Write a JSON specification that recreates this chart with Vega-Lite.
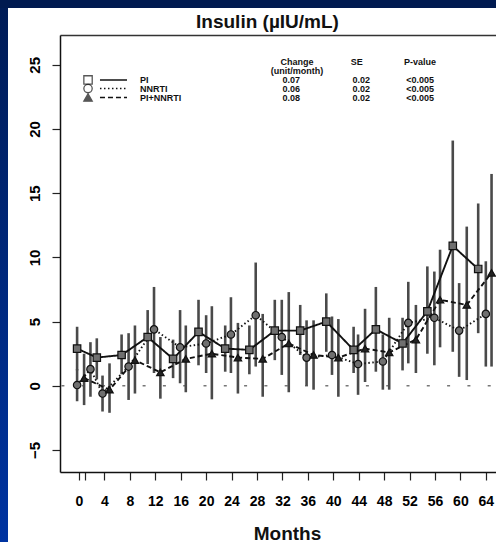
{
  "$schema": "https://vega.github.io/schema/vega-lite/v6.json",
  "width": 436,
  "height": 437,
  "autosize": "none",
  "padding": {"left": 60, "top": 35, "right": 0, "bottom": 70},
  "background": "#ffffff",
  "config": {
    "view": {"stroke": null},
    "axis": {"grid": false, "labelFont": "Liberation Sans", "titleFont": "Liberation Sans"}
  },
  "datasets": {
    "obs": [
      {"series": "PI", "month": -0.3, "insulin": 2.9, "lo": 1.2, "hi": 4.6},
      {"series": "PI", "month": 2.8, "insulin": 2.2, "lo": 0.5, "hi": 3.7},
      {"series": "PI", "month": 6.7, "insulin": 2.4, "lo": 0.9, "hi": 4.0},
      {"series": "PI", "month": 10.8, "insulin": 3.8, "lo": 1.7, "hi": 5.9},
      {"series": "PI", "month": 14.8, "insulin": 2.1, "lo": 0.6, "hi": 3.6},
      {"series": "PI", "month": 18.8, "insulin": 4.2, "lo": 1.6, "hi": 6.7},
      {"series": "PI", "month": 23.0, "insulin": 2.9, "lo": 1.1, "hi": 4.7},
      {"series": "PI", "month": 26.8, "insulin": 2.8, "lo": 0.9, "hi": 4.7},
      {"series": "PI", "month": 30.8, "insulin": 4.3, "lo": 2.0, "hi": 6.7},
      {"series": "PI", "month": 34.8, "insulin": 4.3, "lo": 2.4, "hi": 6.3},
      {"series": "PI", "month": 38.9, "insulin": 5.0, "lo": 2.65, "hi": 7.2},
      {"series": "PI", "month": 43.2, "insulin": 2.8, "lo": 1.0, "hi": 4.6},
      {"series": "PI", "month": 46.7, "insulin": 4.4, "lo": 1.1, "hi": 7.7},
      {"series": "PI", "month": 50.9, "insulin": 3.3, "lo": 1.2, "hi": 5.3},
      {"series": "PI", "month": 54.8, "insulin": 5.8, "lo": 2.5, "hi": 9.3},
      {"series": "PI", "month": 58.8, "insulin": 10.9, "lo": 2.65, "hi": 19.1},
      {"series": "PI", "month": 62.8, "insulin": 9.1, "lo": 4.1, "hi": 14.2},
      {"series": "NNRTI", "month": -0.3, "insulin": 0.06, "lo": -1.2, "hi": 1.3},
      {"series": "NNRTI", "month": 1.8, "insulin": 1.3, "lo": -0.85, "hi": 3.4},
      {"series": "NNRTI", "month": 3.7, "insulin": -0.6, "lo": -2.0, "hi": 0.8},
      {"series": "NNRTI", "month": 7.8, "insulin": 1.5, "lo": -1.1, "hi": 4.1},
      {"series": "NNRTI", "month": 11.8, "insulin": 4.4, "lo": 1.0, "hi": 7.7},
      {"series": "NNRTI", "month": 15.9, "insulin": 3.0, "lo": 0.2, "hi": 5.9},
      {"series": "NNRTI", "month": 20.0, "insulin": 3.3, "lo": 1.0, "hi": 5.5},
      {"series": "NNRTI", "month": 23.9, "insulin": 4.0, "lo": 1.0, "hi": 6.9},
      {"series": "NNRTI", "month": 27.8, "insulin": 5.5, "lo": 1.5, "hi": 9.6},
      {"series": "NNRTI", "month": 31.9, "insulin": 3.8, "lo": 0.85, "hi": 6.7},
      {"series": "NNRTI", "month": 35.8, "insulin": 2.2, "lo": 0.0, "hi": 5.1},
      {"series": "NNRTI", "month": 39.8, "insulin": 2.4, "lo": 0.85, "hi": 5.4},
      {"series": "NNRTI", "month": 43.9, "insulin": 1.7, "lo": -0.7, "hi": 4.0},
      {"series": "NNRTI", "month": 47.8, "insulin": 1.9, "lo": -0.3, "hi": 4.0},
      {"series": "NNRTI", "month": 51.8, "insulin": 4.9, "lo": 1.75, "hi": 8.1},
      {"series": "NNRTI", "month": 55.9, "insulin": 5.3, "lo": 1.6, "hi": 8.9},
      {"series": "NNRTI", "month": 59.8, "insulin": 4.3, "lo": 0.7, "hi": 8.0},
      {"series": "NNRTI", "month": 64.0, "insulin": 5.6, "lo": 1.5, "hi": 9.7},
      {"series": "PI+NNRTI", "month": 0.8, "insulin": 0.6, "lo": -1.5, "hi": 2.5},
      {"series": "PI+NNRTI", "month": 4.8, "insulin": -0.3, "lo": -2.1, "hi": 1.75},
      {"series": "PI+NNRTI", "month": 8.8, "insulin": 2.0, "lo": -0.6, "hi": 4.7},
      {"series": "PI+NNRTI", "month": 12.8, "insulin": 1.05, "lo": -1.0, "hi": 3.8},
      {"series": "PI+NNRTI", "month": 16.8, "insulin": 2.1, "lo": -0.5, "hi": 4.7},
      {"series": "PI+NNRTI", "month": 20.9, "insulin": 2.5, "lo": -1.05, "hi": 6.2},
      {"series": "PI+NNRTI", "month": 25.0, "insulin": 2.2, "lo": -0.6, "hi": 4.9},
      {"series": "PI+NNRTI", "month": 28.9, "insulin": 2.1, "lo": -0.85, "hi": 5.6},
      {"series": "PI+NNRTI", "month": 33.0, "insulin": 3.3, "lo": -0.5, "hi": 7.3},
      {"series": "PI+NNRTI", "month": 36.9, "insulin": 2.4, "lo": -0.3, "hi": 5.1},
      {"series": "PI+NNRTI", "month": 40.8, "insulin": 2.2, "lo": -0.85, "hi": 5.2},
      {"series": "PI+NNRTI", "month": 45.0, "insulin": 2.9, "lo": 0.3, "hi": 6.0},
      {"series": "PI+NNRTI", "month": 48.8, "insulin": 2.6, "lo": -0.3, "hi": 5.3},
      {"series": "PI+NNRTI", "month": 53.0, "insulin": 3.6, "lo": 1.0, "hi": 6.3},
      {"series": "PI+NNRTI", "month": 56.8, "insulin": 6.7, "lo": 3.0, "hi": 10.6},
      {"series": "PI+NNRTI", "month": 61.0, "insulin": 6.3, "lo": 0.45, "hi": 12.4},
      {"series": "PI+NNRTI", "month": 64.9, "insulin": 8.8, "lo": 1.5, "hi": 16.5}
    ],
    "legend_names": [
      {"label": "PI", "month": 9.6, "insulin": 23.82},
      {"label": "NNRTI", "month": 9.6, "insulin": 23.15},
      {"label": "PI+NNRTI", "month": 9.6, "insulin": 22.45}
    ],
    "legend_table": [
      {"label": "Change", "month": 34.3, "insulin": 25.25},
      {"label": "(unit/month)", "month": 34.3, "insulin": 24.5},
      {"label": "SE", "month": 43.7, "insulin": 25.25},
      {"label": "P-value", "month": 53.65, "insulin": 25.25},
      {"label": "0.07", "month": 33.4, "insulin": 23.82},
      {"label": "0.02", "month": 44.4, "insulin": 23.82},
      {"label": "<0.005", "month": 53.65, "insulin": 23.82},
      {"label": "0.06", "month": 33.4, "insulin": 23.15},
      {"label": "0.02", "month": 44.4, "insulin": 23.15},
      {"label": "<0.005", "month": 53.65, "insulin": 23.15},
      {"label": "0.08", "month": 33.4, "insulin": 22.45},
      {"label": "0.02", "month": 44.4, "insulin": 22.45},
      {"label": "<0.005", "month": 53.65, "insulin": 22.45}
    ],
    "legend_keys": [
      {"series": "PI", "month": 1.42, "m_start": 3.3, "m_end": 7.55, "insulin": 23.82},
      {"series": "NNRTI", "month": 1.42, "m_start": 3.3, "m_end": 7.55, "insulin": 23.15},
      {"series": "PI+NNRTI", "month": 1.42, "m_start": 3.3, "m_end": 7.55, "insulin": 22.45}
    ],
    "ref": [{"level": 0}]
  },
  "layer": [
    {
      "data": {"values": [{}]},
      "mark": {
        "type": "rect",
        "clip": false,
        "color": {
          "gradient": "linear", "x1": 0, "y1": 0, "x2": 0, "y2": 1,
          "stops": [{"offset": 0, "color": "#001a50"}, {"offset": 1, "color": "#0036a8"}]
        }
      },
      "encoding": {
        "x": {"datum": -20, "type": "quantitative", "axis": null, "scale": {"domain": [-2.99, 65.6], "nice": false, "zero": false}},
        "x2": {"datum": -11.17},
        "y": {"datum": 33, "type": "quantitative", "axis": null, "scale": {"domain": [-6.71, 27.32], "nice": false, "zero": false}},
        "y2": {"datum": -16}
      }
    },
    {
      "data": {"values": [{}]},
      "mark": {"type": "rect", "clip": false, "color": "#001a50"},
      "encoding": {
        "x": {"datum": -20, "type": "quantitative", "axis": null},
        "x2": {"datum": 80},
        "y": {"datum": 33, "type": "quantitative", "axis": null},
        "y2": {"datum": 29.42}
      }
    },
    {
      "data": {"name": "ref"},
      "mark": {"type": "rule", "color": "#777777", "strokeWidth": 1.5, "strokeDash": [3, 17.3], "strokeDashOffset": 15},
      "encoding": {
        "y": {"field": "level", "type": "quantitative", "axis": null}
      }
    },
    {
      "data": {"name": "obs"},
      "mark": {"type": "rule", "color": "#4a4a4a", "strokeWidth": 2.6},
      "encoding": {
        "x": {
          "field": "month", "type": "quantitative",
          "scale": {"domain": [-2.99, 65.6], "nice": false, "zero": false},
          "axis": {
            "orient": "bottom",
            "values": [0, 1, 4, 8, 12, 16, 20, 24, 28, 32, 36, 40, 44, 48, 52, 56, 60, 64],
            "labelExpr": "datum.value == 1 ? '' : datum.label",
            "labelOverlap": false,
            "labelFlush": false,
            "tickSize": 8,
            "tickColor": "#222222",
            "tickWidth": 1.2,
            "domainColor": "#111111",
            "domainWidth": 1.5,
            "labelFontSize": 14,
            "labelFontWeight": "bold",
            "labelColor": "#000000",
            "labelPadding": 14,
            "title": "Months",
            "titleFontSize": 19,
            "titleFontWeight": "bold",
            "titleColor": "#111111",
            "titleX": 227,
            "titleY": 67,
            "titleAlign": "center",
            "titleBaseline": "alphabetic"
          }
        },
        "y": {
          "field": "lo", "type": "quantitative",
          "scale": {"domain": [-6.71, 27.32], "nice": false, "zero": false},
          "axis": null
        },
        "y2": {"field": "hi"}
      }
    },
    {
      "data": {"name": "obs"},
      "mark": {"type": "line", "color": "#111111", "strokeWidth": 1.9},
      "encoding": {
        "x": {"field": "month", "type": "quantitative", "axis": null},
        "y": {"field": "insulin", "type": "quantitative", "axis": null},
        "strokeDash": {
          "field": "series", "type": "nominal",
          "scale": {"domain": ["PI", "NNRTI", "PI+NNRTI"], "range": [[1, 0], [1.5, 2.5], [5, 3]]},
          "legend": null
        }
      }
    },
    {
      "data": {"name": "obs"},
      "mark": {"type": "point", "filled": true, "size": 55, "stroke": "#111111", "strokeWidth": 1.2, "opacity": 1},
      "encoding": {
        "x": {"field": "month", "type": "quantitative", "axis": null},
        "y": {"field": "insulin", "type": "quantitative", "axis": null},
        "shape": {
          "field": "series", "type": "nominal",
          "scale": {"domain": ["PI", "NNRTI", "PI+NNRTI"], "range": ["square", "circle", "triangle-up"]},
          "legend": null
        },
        "fill": {
          "field": "series", "type": "nominal",
          "scale": {"domain": ["PI", "NNRTI", "PI+NNRTI"], "range": ["#707070", "#707070", "#222222"]},
          "legend": null
        }
      }
    },
    {
      "data": {"name": "legend_keys"},
      "mark": {"type": "rule", "color": "#111111", "strokeWidth": 1.5},
      "encoding": {
        "x": {"field": "m_start", "type": "quantitative", "axis": null},
        "x2": {"field": "m_end"},
        "y": {"field": "insulin", "type": "quantitative", "axis": null},
        "strokeDash": {"field": "series", "type": "nominal", "legend": null}
      }
    },
    {
      "data": {"name": "legend_keys"},
      "mark": {"type": "point", "filled": true, "size": 70, "stroke": "#111111", "strokeWidth": 1.3},
      "encoding": {
        "x": {"field": "month", "type": "quantitative", "axis": null},
        "y": {"field": "insulin", "type": "quantitative", "axis": null},
        "shape": {"field": "series", "type": "nominal", "legend": null},
        "fill": {
          "field": "series", "type": "nominal",
          "scale": {"domain": ["PI", "NNRTI", "PI+NNRTI"], "range": ["#ffffff", "#ffffff", "#111111"]},
          "legend": null
        }
      }
    },
    {
      "data": {"name": "legend_names"},
      "mark": {"type": "text", "align": "left", "baseline": "middle", "font": "Liberation Sans", "fontSize": 9, "fontWeight": "bold", "color": "#111111"},
      "encoding": {
        "x": {"field": "month", "type": "quantitative", "axis": null},
        "y": {"field": "insulin", "type": "quantitative", "axis": null},
        "text": {"field": "label"}
      }
    },
    {
      "data": {"name": "legend_table"},
      "mark": {"type": "text", "align": "center", "baseline": "middle", "font": "Liberation Sans", "fontSize": 9, "fontWeight": "bold", "color": "#111111"},
      "encoding": {
        "x": {"field": "month", "type": "quantitative", "axis": null},
        "y": {"field": "insulin", "type": "quantitative", "axis": null},
        "text": {"field": "label"}
      }
    },
    {
      "data": {"name": "obs"},
      "mark": {"type": "point", "opacity": 0},
      "encoding": {
        "x": {
          "field": "month", "type": "quantitative",
          "axis": {
            "orient": "top", "labels": false, "ticks": false, "domain": true,
            "domainColor": "#333333", "domainWidth": 1.5, "grid": false,
            "title": "Insulin (µIU/mL)",
            "titleFontSize": 19,
            "titleFontWeight": "bold",
            "titleColor": "#111111",
            "titleX": 207,
            "titleY": -8,
            "titleAlign": "center",
            "titleBaseline": "alphabetic"
          }
        },
        "y": {
          "field": "insulin", "type": "quantitative",
          "axis": {
            "orient": "left",
            "values": [-5, 0, 5, 10, 15, 20, 25],
            "labelAngle": -90,
            "labelAlign": "center",
            "labelBaseline": "bottom",
            "labelOverlap": false,
            "labelFlush": false,
            "tickSize": 8,
            "tickColor": "#222222",
            "tickWidth": 1.2,
            "domain": true,
            "domainColor": "#111111",
            "domainWidth": 1.5,
            "labelFontSize": 15,
            "labelFontWeight": "bold",
            "labelColor": "#000000",
            "labelPadding": 10,
            "title": null
          }
        }
      }
    }
  ],
  "resolve": {"axis": {"x": "independent", "y": "independent"}, "scale": {"fill": "independent"}}
}
